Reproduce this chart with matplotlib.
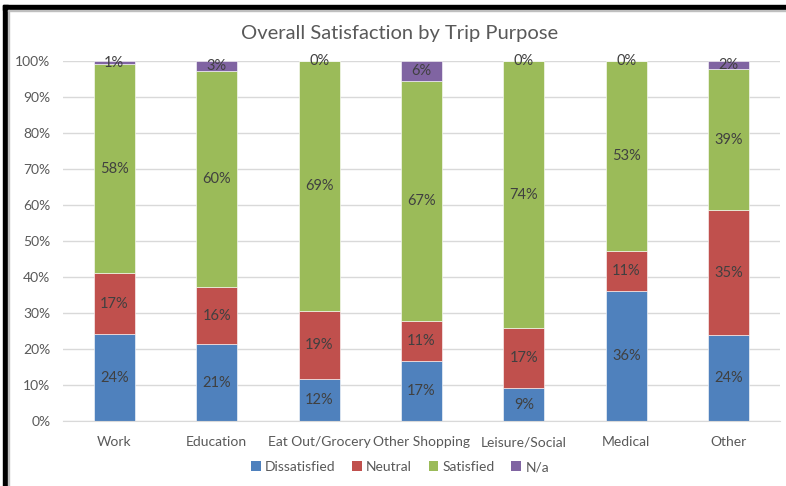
#!/usr/bin/env python3
import matplotlib
matplotlib.use('Agg')

import numpy as np
import matplotlib.pyplot as plt
from matplotlib.patches import Patch, Rectangle

plt.rcParams['font.family'] = ['Lato', 'DejaVu Sans']

purposes = ['Work', 'Education', 'Eat Out/Grocery', 'Other Shopping',
            'Leisure/Social', 'Medical', 'Other']
series = ['Dissatisfied', 'Neutral', 'Satisfied', 'N/a']

# percent of respondents
dissatisfied = [24.1, 21.3, 11.7, 16.6, 9.1, 36.1, 23.9]
neutral = [16.9, 15.9, 18.9, 11.1, 16.6, 11.0, 34.6]
satisfied = [58.1, 60.0, 69.4, 66.7, 74.3, 52.9, 39.3]
not_applicable = [0.9, 2.8, 0.0, 5.6, 0.0, 0.0, 2.2]

colors = ['#4F81BD', '#C0504D', '#9BBB59', '#8064A2']
TEXT = '#595959'
LABEL = '#404040'


def main():
    fig = plt.figure(figsize=(7.86, 4.86), dpi=100)
    ax = fig.add_axes([63/786, 65/486, 717/786, 360/486])

    x = np.arange(len(purposes))
    values = [dissatisfied, neutral, satisfied, not_applicable]
    bottom = np.zeros(len(purposes))
    for vals, color in zip(values, colors):
        vals = np.array(vals) / 100.0
        ax.bar(x, vals, width=0.4, bottom=bottom, color=color,
               edgecolor='white', linewidth=0.4, zorder=3)
        for xi, b, v in zip(x, bottom, vals):
            ax.text(xi, b + v/2, '{:.0f}%'.format(v*100), ha='center',
                    va='center', fontsize=10.5, color=LABEL, zorder=4)
        bottom += vals

    ax.set_xlim(-0.5, len(purposes) - 0.5)
    ax.set_ylim(0, 1)
    ticks = np.arange(0, 1.01, 0.1)
    ax.set_yticks(ticks)
    ax.set_yticklabels(['{:.0f}%'.format(t*100) for t in ticks])
    ax.set_xticks(x)
    ax.set_xticklabels(purposes)
    ax.tick_params(axis='both', length=0, labelsize=10, labelcolor=TEXT)
    ax.tick_params(axis='y', pad=9)
    ax.tick_params(axis='x', pad=11)
    ax.grid(axis='y', color='#D9D9D9', linewidth=1, zorder=0)
    ax.set_axisbelow(True)
    for side in ['top', 'right', 'left']:
        ax.spines[side].set_visible(False)
    ax.spines['bottom'].set_color('#D9D9D9')
    ax.spines['bottom'].set_zorder(5)

    fig.text(400/786, 1 - 33/486, 'Overall Satisfaction by Trip Purpose',
             ha='center', va='center', fontsize=14.5, color=TEXT)

    handles = [Patch(facecolor=c, edgecolor='none') for c in colors]
    fig.legend(handles, series, loc='center', ncol=4,
               bbox_to_anchor=(400/786, 1 - 467/486), frameon=False,
               fontsize=10, labelcolor=TEXT, handlelength=0.7,
               handleheight=0.7, handletextpad=0.3, columnspacing=1.2)

    # black frame on the left and top edges, with a faint grey rim
    fig.add_artist(Rectangle((3/786, 0), 5/786, 1 - 5/486,
                             transform=fig.transFigure, color='black'))
    fig.add_artist(Rectangle((3/786, 1 - 10/486), 1, 5/486,
                             transform=fig.transFigure, color='black'))
    fig.add_artist(Rectangle((8/786, 0), 1/786, 1 - 10/486,
                             transform=fig.transFigure, color='#BFBFBF'))
    fig.add_artist(Rectangle((8/786, 1 - 11/486), 1, 1/486,
                             transform=fig.transFigure, color='#BFBFBF'))

    fig.savefig('out.png', dpi=100)


if __name__ == '__main__':
    main()
